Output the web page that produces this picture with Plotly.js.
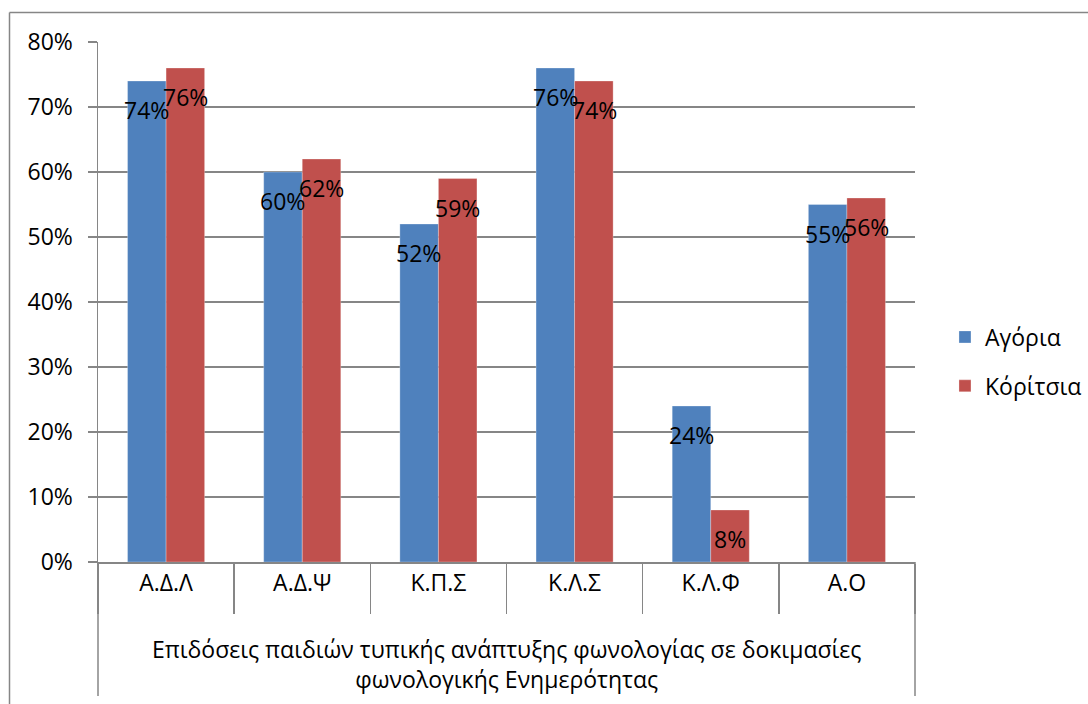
<!DOCTYPE html>
<html>
<head>
<meta charset="utf-8">
<script src="https://cdn.plot.ly/plotly-3.0.1.min.js"></script>
<style>
  html, body { margin: 0; padding: 0; background: #ffffff; }
  #chart { width: 1088px; height: 704px; }
</style>
</head>
<body>
<div id="chart"></div>
<script>
// Task categories (phonological awareness tests)
const categories = ['Α.Δ.Λ', 'Α.Δ.Ψ', 'Κ.Π.Σ', 'Κ.Λ.Σ', 'Κ.Λ.Φ', 'Α.Ο'];
// Share of correct answers per group (percent)
const boys = [74, 60, 52, 76, 24, 55];
const girls = [76, 62, 59, 74, 8, 56];
const seriesNames = ['Αγόρια', 'Κόρίτσια'];
const groupTitle = 'Επιδόσεις παιδιών τυπικής ανάπτυξης φωνολογίας σε δοκιμασίες<br>φωνολογικής Ενημερότητας';
const yTickValues = [0, 10, 20, 30, 40, 50, 60, 70, 80];

const FONT = 'Open Sans, Noto Sans, DejaVu Sans, sans-serif';
const GRID = '#868686';
const BLUE = '#4F81BD';
const RED = '#C0504D';

// Plot-area geometry in pixels, used to place the frame lines in paper units
const L = 98, R = 915, T = 42, B = 562;
const px = v => (v - L) / (R - L);
const py = v => (B - v) / (B - T);

const traces = [
  { name: seriesNames[0], values: boys, color: BLUE },
  { name: seriesNames[1], values: girls, color: RED }
].map((s, i) => ({
  type: 'bar',
  name: s.name,
  legendgroup: 'g' + i,
  x: categories,
  y: s.values.map(v => v / 100),
  marker: { color: s.color, line: { color: 'rgba(255,255,255,0.35)', width: 0.8 } },
  hoverinfo: 'skip'
}));

// Value labels, placed just under the top of each bar
const labelShift = [-19.5, 19.5];
const annotations = [];
[boys, girls].forEach((vals, si) => {
  vals.forEach((v, ci) => {
    annotations.push({
      xref: 'x', yref: 'y',
      x: categories[ci], y: v / 100,
      xshift: labelShift[si], yshift: -29,
      text: v + '%', showarrow: false,
      xanchor: 'center', yanchor: 'middle',
      font: { family: FONT, size: 23, color: '#000000' }
    });
  });
});
// Group title under the category labels
annotations.push({
  xref: 'paper', yref: 'paper',
  x: 0.5, y: py(664),
  text: groupTitle, showarrow: false,
  xanchor: 'center', yanchor: 'middle',
  align: 'center',
  font: { family: FONT, size: 23, color: '#000000' }
});

const lineStyle = { color: GRID, width: 1.5 };
const shapes = [
  // outer frame of the chart
  { type: 'line', xref: 'paper', yref: 'paper', x0: px(9.5), x1: px(1100), y0: py(12.5), y1: py(12.5), line: lineStyle },
  { type: 'line', xref: 'paper', yref: 'paper', x0: px(9.5), x1: px(9.5), y0: py(12.5), y1: py(720), line: lineStyle },
  // side borders of the category block
  { type: 'line', xref: 'paper', yref: 'paper', x0: 0, x1: 0, y0: 0, y1: py(696), line: lineStyle },
  { type: 'line', xref: 'paper', yref: 'paper', x0: 1, x1: 1, y0: 0, y1: py(696), line: lineStyle }
];

const layout = {
  width: 1088, height: 704,
  margin: { l: L, r: 1088 - R, t: T, b: 704 - B, autoexpand: false },
  paper_bgcolor: '#ffffff',
  plot_bgcolor: '#ffffff',
  barmode: 'group',
  bargap: 0.434,
  bargroupgap: 0,
  showlegend: true,
  legend: {
    x: 1.0367, y: py(361.5), xanchor: 'left', yanchor: 'middle',
    font: { family: FONT, size: 23, color: '#000000' },
    itemwidth: 30,
    tracegroupgap: 16,
    bgcolor: 'rgba(0,0,0,0)'
  },
  xaxis: {
    type: 'category',
    showgrid: false,
    showline: true, linecolor: GRID, linewidth: 1.5,
    ticks: 'outside', tickson: 'boundaries', ticklen: 50, tickwidth: 1.5, tickcolor: GRID,
    tickfont: { family: FONT, size: 23, color: '#000000' },
    zeroline: false,
    fixedrange: true
  },
  yaxis: {
    range: [0, 0.8],
    tickvals: yTickValues.map(v => v / 100),
    ticktext: yTickValues.map(v => v + '%'),
    showgrid: true, gridcolor: GRID, gridwidth: 1.5,
    showline: true, linecolor: GRID, linewidth: 1.5,
    ticks: 'outside', ticklen: 9, tickwidth: 1.5, tickcolor: GRID,
    tickfont: { family: FONT, size: 23, color: '#000000' },
    ticklabelstandoff: 10,
    zeroline: false,
    fixedrange: true
  },
  annotations: annotations,
  shapes: shapes,
  font: { family: FONT, color: '#000000' }
};

Plotly.newPlot('chart', traces, layout, { displayModeBar: false, staticPlot: true });
</script>
</body>
</html>
